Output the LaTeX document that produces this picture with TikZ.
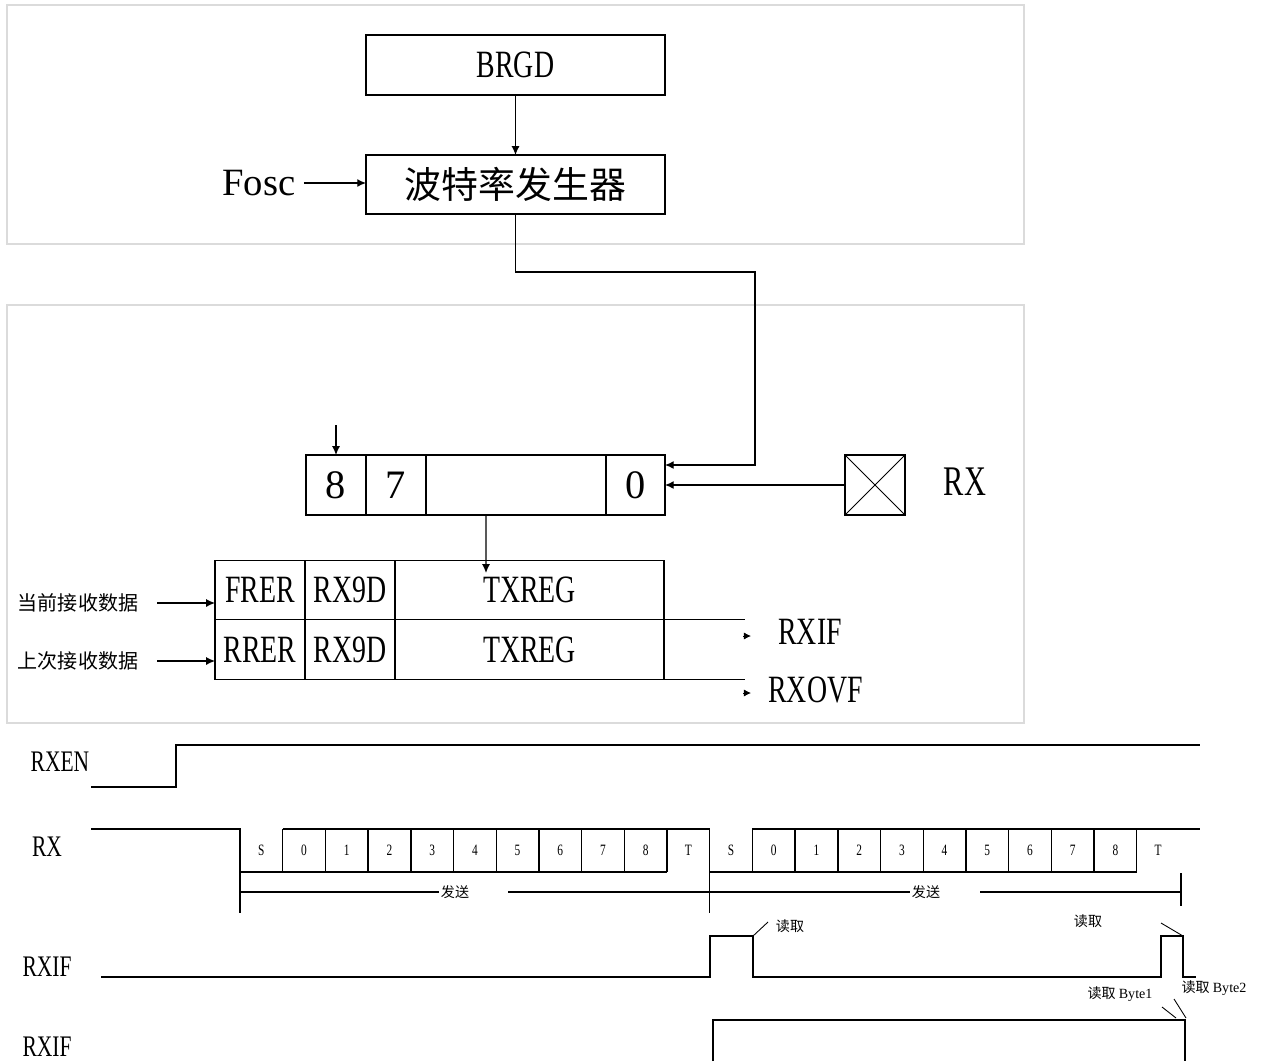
\documentclass[tikz,border=0pt]{standalone}
\usepackage{fontspec}
\setmainfont[FakeStretch=0.72]{Liberation Serif}
\newfontfamily\cjk{Noto Sans CJK SC}
\newfontfamily\wide{Liberation Serif}
\usetikzlibrary{arrows.meta, positioning}

\begin{document}
\begin{tikzpicture}[
  x=0.02cm, y=-0.02cm,
  frame/.style={draw=black!14, line width=0.9pt},
  block/.style={draw, line width=0.7pt, minimum width=5.98cm, minimum height=1.2cm,
                inner sep=0pt, outer sep=0pt, font=\fontsize{22}{24}\selectfont},
  bit/.style={draw, line width=0.7pt, minimum height=1.2cm, inner sep=0pt,
              outer sep=0pt, font=\wide\fontsize{23}{26}\selectfont},
  field/.style={draw, line width=0.7pt, minimum height=1.19cm, inner sep=0pt,
                outer sep=0pt, font=\fontsize{22}{24}\selectfont},
  arrow/.style={-{Latex[length=5pt, width=4.5pt]}, line width=0.7pt},
  wave/.style={line width=0.8pt},
  sig/.style={font=\fontsize{17}{19}\selectfont},
  slot/.style={font=\fontsize{9}{10}\selectfont},
  note/.style={font=\cjk\fontsize{8}{9}\selectfont, inner sep=1pt}
]
\useasboundingbox (0,0) rectangle (1267,1061);

% Frames
\draw[frame] (7,5) rectangle (1024,244);
\draw[frame] (7,305) rectangle (1024,723);

% Baud rate generator
\node[block] (brgd) at (515.5,65) {BRGD};
\node[block, minimum height=1.18cm, font=\cjk\fontsize{21}{24}\selectfont]
  (baud) at (515.5,184.5) {波特率发生器};
\node[font=\wide\fontsize{22}{24}\selectfont, inner sep=0pt] (fosc) at (259,183) {Fosc};
\draw[arrow] (brgd.south) -- (baud.north);
\draw[arrow] ([xshift=0.16cm]fosc.east) -- (fosc.east -| baud.west);

% Shift register
\node[bit, minimum width=1.2cm] (b8) at (336,485) {8};
\node[bit, minimum width=1.2cm, right=0pt of b8] (b7) {7};
\node[bit, minimum width=3.6cm, right=0pt of b7] (bmid) {};
\node[bit, minimum width=1.18cm, right=0pt of bmid] (b0) {0};
\coordinate (in8) at (336,425);
\draw[arrow] (in8) -- (b8.north);

% RX pin
\node[draw, line width=0.7pt, minimum size=1.2cm, inner sep=0pt, outer sep=0pt]
  (pin) at (875,485) {};
\draw[line width=0.5pt] (pin.north west) -- (pin.south east)
                        (pin.south west) -- (pin.north east);
\node[font=\fontsize{24}{27}\selectfont] (rxpin) at (965,482) {RX};
\draw[arrow] (pin.west) -- (b0.east);

% Clock to shift register
\coordinate (bend) at (755,272);
\draw[arrow] (baud.south) |- (bend) |- ([yshift=0.4cm]b0.east);

% Receive buffer
\node[field, minimum width=1.8cm] (frer) at (260,590) {FRER};
\node[field, minimum width=1.8cm, right=0pt of frer] (rxa) {RX9D};
\node[field, minimum width=5.38cm, right=0pt of rxa] (txa) {TXREG};
\node[field, minimum width=1.8cm, below=0pt of frer] (rrer) {RRER};
\node[field, minimum width=1.8cm, right=0pt of rrer] (rxb) {RX9D};
\node[field, minimum width=5.38cm, right=0pt of rxb] (txb) {TXREG};
\coordinate (txin) at (486,573);
\draw[arrow] ([xshift=-0.6cm]bmid.south) -- (txin);

\node[font=\cjk\fontsize{11.4}{13}\selectfont, inner sep=0pt] (cur) at (78,603) {当前接收数据};
\node[font=\cjk\fontsize{11.4}{13}\selectfont, inner sep=0pt] (prev) at (78,661) {上次接收数据};
\draw[arrow] ([xshift=0.38cm]cur.east) -- (cur.east -| frer.west);
\draw[arrow] ([xshift=0.38cm]prev.east) -- (prev.east -| rrer.west);

% Flags
\draw[line width=0.7pt] (txa.south east) -- ++(81,0);
\draw[line width=0.7pt] (txb.south east) -- ++(81,0);
\coordinate (ifa) at (743,636);
\coordinate (ifb) at (751,636);
\coordinate (ova) at (743,693);
\coordinate (ovb) at (751,693);
\draw[-{Latex[length=4pt, width=4pt]}, line width=0.5pt] (ifa) -- (ifb);
\draw[-{Latex[length=4pt, width=4pt]}, line width=0.5pt] (ova) -- (ovb);
\node[font=\fontsize{22}{24}\selectfont, anchor=west, inner sep=0pt] (rxif) at (778,632) {RXIF};
\node[font=\fontsize{22}{24}\selectfont, anchor=west, inner sep=0pt] (rxovf) at (768,690) {RXOVF};

% Timing: RXEN
\node[sig] (lrxen) at (60,762) {RXEN};
\draw[wave] (91,787) -- (176,787) -- (176,745) -- (1200,745);

% Timing: RX
\node[sig] (lrx) at (47,847) {RX};
\draw[wave] (91,829) -- (240,829) -- (240,913);
\draw[wave] (709.7,829) -- (709.7,913);
\foreach \s/\e in {240/709.7, 709.7/1200} {
  \draw[wave] (\s,872) -- ({\s+10*42.7},872);
  \draw[wave] ({\s+42.7},829) -- (\e,829);
  \foreach \k in {1,...,10}
    \draw[wave] ({\s+\k*42.7},829) -- ({\s+\k*42.7},872);
  \foreach \t [count=\k from 0] in {S,0,1,2,3,4,5,6,7,8,T}
    \node[slot] at ({\s+(\k+0.5)*42.7},850) {\t};
}

% Send spans
\node[note] (tx1) at (455,892) {发送};
\node[note] (tx2) at (926,892) {发送};
\coordinate (endtx) at (1181,892);
\draw[wave] (240,892) -- (tx1.west);
\draw[wave] ([xshift=0.74cm]tx1.east) -- (tx2.west);
\draw[wave] ([xshift=0.76cm]tx2.east) -- (endtx);
\draw[wave] (1181,873) -- (1181,906);

% Timing: RXIF
\node[sig] (lif1) at (47,967) {RXIF};
\draw[wave] (101,977) -- (710,977) -- (710,936) -- (753,936) -- (753,977)
  -- (1161,977) -- (1161,936) -- (1183,936) -- (1183,977) -- (1196,977);
\node[note] (rd1) at (790,926) {读取};
\node[note] (rd2) at (1088,921) {读取};
\draw[line width=0.5pt] (753,936) -- (768,922);
\draw[line width=0.5pt] (1161,923) -- (1183,936);

% Timing: RXIF (second)
\node[sig] (lif2) at (47,1047) {RXIF};
\draw[wave] (713,1061) -- (713,1020) -- (1185,1020) -- (1185,1061);
\node[note] (by2) at (1214,988) {读取 {\wide Byte2}};
\node[note] (by1) at (1120,994) {读取 {\wide Byte1}};
\draw[line width=0.5pt] (1162,1007) -- (1176,1018);
\draw[line width=0.5pt] (1174,999) -- (1186,1018);

\end{tikzpicture}
\end{document}
